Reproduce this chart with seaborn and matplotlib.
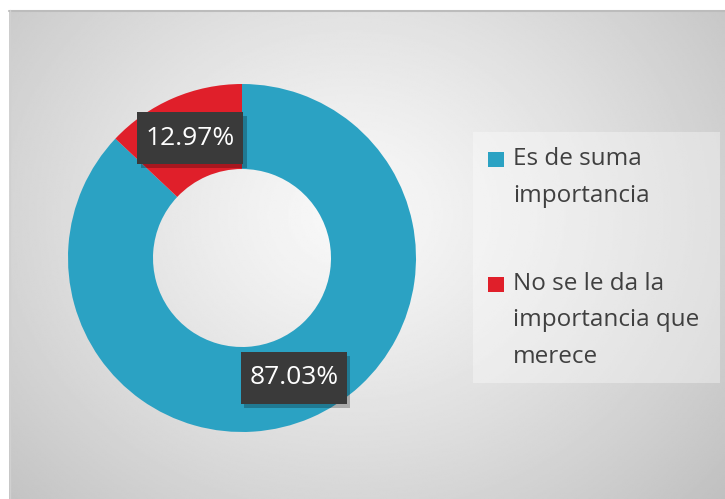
import numpy as np
import matplotlib
matplotlib.use("Agg")
import matplotlib.pyplot as plt
import matplotlib.patheffects as pe
from matplotlib.patches import Rectangle
from matplotlib.lines import Line2D
import seaborn as sns

# ---- data ----
categories = ["Es de suma\nimportancia", "No se le da la\nimportancia que\nmerece"]
values = [87.03, 12.97]
value_labels = ["87.03%", "12.97%"]
colors = ["#2ba2c3", "#e01f2a"]

sns.set_theme(style="white")
plt.rcParams['font.family'] = ['Open Sans', 'DejaVu Sans']

W, H = 725, 499
fig = plt.figure(figsize=(W / 100, H / 100), dpi=100)
fig.patch.set_facecolor('white')

def fx(x):
    return x / W

def fy(y):
    return 1 - y / H

# ---- background panel with radial gradient ----
x0p, y0p = 9, 10
bg = fig.add_axes([fx(x0p), 0, (W - x0p) / W, (H - y0p) / H])
ny, nx = 300, 420
yy, xx = np.mgrid[0:ny, 0:nx]
px = x0p + xx / (nx - 1) * (W - x0p)
py = y0p + yy / (ny - 1) * (H - y0p)
cx, cy = 350, 215
d = np.sqrt(((px - cx) / 420) ** 2 + ((py - cy) / 360) ** 2)
v = 0.975 - 0.18 * np.clip(d, 0, 1.4) ** 1.2
bg.imshow(v, cmap='gray', vmin=0, vmax=1, extent=[0, 1, 0, 1],
          aspect='auto', origin='upper', interpolation='bilinear')
bg.set_xlim(0, 1)
bg.set_ylim(0, 1)
bg.axis('off')
fig.add_artist(Line2D([fx(x0p), 1], [fy(y0p + 0.5), fy(y0p + 0.5)],
                      transform=fig.transFigure, color='#bcbcbc', lw=1.5))
fig.add_artist(Line2D([fx(x0p + 0.5), fx(x0p + 0.5)], [0, fy(y0p)],
                      transform=fig.transFigure, color='#d0d0d0', lw=1))

# ---- donut ----
R = 174
cxp, cyp = 242, 258
half = 185
ax = fig.add_axes([fx(cxp - half), fy(cyp + half), 2 * half / W, 2 * half / H])
ax.patch.set_alpha(0)
wedges, _ = ax.pie(values, colors=colors, startangle=90, counterclock=False,
                   radius=1, wedgeprops=dict(width=1 - 89 / R, edgecolor='none'))
ax.set_xlim(-half / R, half / R)
ax.set_ylim(-half / R, half / R)
ax.set_aspect('equal')
ax.axis('off')

# ---- data labels ----
for w, lab in zip(wedges, value_labels):
    ang = np.deg2rad((w.theta1 + w.theta2) / 2)
    r = 0.75
    tx, ty = r * np.cos(ang), r * np.sin(ang)
    t = ax.text(tx, ty, lab, ha='center', va='center', fontsize=19, color='white',
                bbox=dict(boxstyle='square,pad=0.32', fc='#3a3a3a', ec='none',
                          mutation_aspect=1.6))
    t.get_bbox_patch().set_path_effects(
        [pe.SimplePatchShadow(offset=(2.5, -3), shadow_rgbFace='black', alpha=0.25),
         pe.Normal()])

# ---- legend (manual, to match layout) ----
fig.add_artist(Rectangle((fx(473), fy(383)), (720 - 473) / W, (383 - 132) / H,
                         transform=fig.transFigure, fc='white', ec='none', alpha=0.35))
first_baselines = [165, 290]
marker_tops = [152, 277]
line_step = 36.5
for cat, col, yb, mt in zip(categories, colors, first_baselines, marker_tops):
    fig.add_artist(Rectangle((fx(488), fy(mt + 15)), 16 / W, 15 / H,
                             transform=fig.transFigure, fc=col, ec='none'))
    for i, line in enumerate(cat.split("\n")):
        fig.text(fx(513), fy(yb + i * line_step), line, ha='left', va='baseline',
                 fontsize=17.5, color='#404040')

fig.savefig("out.png", dpi=100)
